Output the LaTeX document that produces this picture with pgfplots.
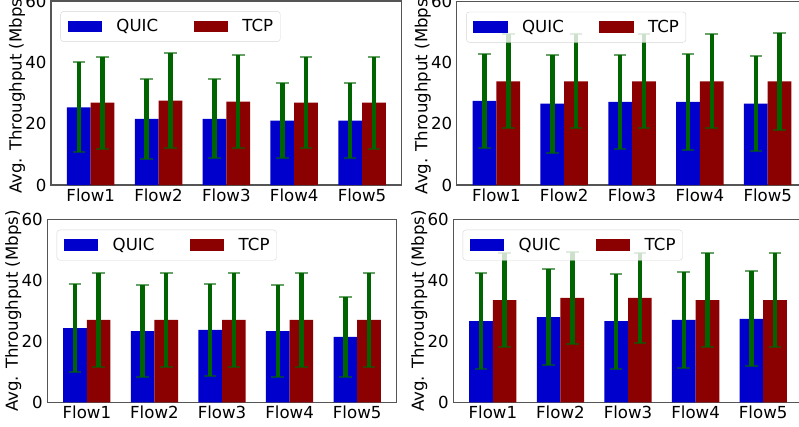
\documentclass[border=0pt]{standalone}
\usepackage{fontspec}
\setmainfont{DejaVu Sans}
\usepackage{pgfplots}
\pgfplotsset{compat=1.18}
\definecolor{quic}{RGB}{0,0,205}
\definecolor{tcp}{RGB}{139,0,0}
\definecolor{errg}{RGB}{0,100,0}
\newcommand\fs{\fontsize{16.6}{19}\selectfont}
\pgfplotsset{
  panel/.style={
    scale only axis,
    xmin=-0.585, xmax=4.585, ymin=0, ymax=60,
    xtick={0,1,2,3,4},
    xticklabels={Flow1,Flow2,Flow3,Flow4,Flow5},
    ytick={0,20,40,60},
    major tick length=0pt,
    /pgf/number format/assume math mode=true,
    axis line style={draw={rgb,255:red,85;green,85;blue,85}, line width=1.2pt},
    tick label style={font=\fs},
    yticklabel style={anchor=east, inner sep=0pt, xshift=-4.3pt},
    xticklabel style={anchor=north, inner sep=0pt, yshift=-3.7pt},
    ylabel={Avg. Throughput (Mbps)},
    label style={font=\fs},
    ylabel style={at={(axis description cs:-0.097,0.5)}, anchor=center},
    legend columns=2,
    legend style={at={(0.027,0.945)}, anchor=north west, font=\fs,
      draw=black!20, rounded corners=3pt, fill=white, fill opacity=0.8,
      draw opacity=0.8, text opacity=1,
      inner xsep=7pt, inner ysep=8pt,
      nodes={inner sep=0pt, text depth=0.2em},
      /tikz/every odd column/.append style={column sep=14.5pt},
      /tikz/every even column/.append style={column sep=35.5pt}},
  },
  qbar/.style={ybar, bar width=0.35, bar shift=0pt, fill=quic, draw=none,
    legend image code/.code={\fill[quic, sharp corners, fill opacity=1] (0pt,-5.9pt) rectangle (34.3pt,5.9pt);}},
  tbar/.style={ybar, bar width=0.35, bar shift=0pt, fill=tcp, draw=none,
    legend image code/.code={\fill[tcp, sharp corners, fill opacity=1] (0pt,-5.9pt) rectangle (34.3pt,5.9pt);}},
  ebar/.style={draw=none, mark=none, forget plot,
    error bars/.cd, y dir=both, y explicit,
    error bar style={line width=4.5pt, color=errg, sharp corners},
    error mark options={rotate=90, line width=2pt, mark size=6.3pt, color=errg, opacity=0.6}},
}
\begin{document}
\begin{tikzpicture}[x=1pt,y=1pt]
\useasboundingbox (0,0) rectangle (799,426);
\clip (0,0) rectangle (799,426);
% top-left
\begin{axis}[panel, at={(51pt,241pt)}, anchor=south west, width=350.7pt, height=184pt]
\addplot[qbar] coordinates {(-0.175,25.3) (0.825,21.6) (1.825,21.6) (2.825,21.0) (3.825,21.0)};
\addplot[tbar] coordinates {(0.175,26.9) (1.175,27.5) (2.175,27.2) (3.175,26.9) (4.175,26.9)};
\addplot[ebar] coordinates {(-0.175,25.3) +- (0,14.7) (0.825,21.6) +- (0,13.0) (1.825,21.6) +- (0,12.9) (2.825,21.0) +- (0,12.3) (3.825,21.0) +- (0,12.3)};
\addplot[ebar] coordinates {(0.175,26.9) +- (0,15.0) (1.175,27.5) +- (0,15.5) (2.175,27.2) +- (0,15.2) (3.175,26.9) +- (0,14.8) (4.175,26.9) +- (0,15.0)};
\legend{QUIC,TCP}
\end{axis}
% top-right
\begin{axis}[panel, at={(456.7pt,241pt)}, anchor=south west, width=350.7pt, height=183.3pt]
\addplot[qbar] coordinates {(-0.175,27.5) (0.825,26.6) (1.825,27.2) (2.825,27.2) (3.825,26.6)};
\addplot[tbar] coordinates {(0.175,33.9) (1.175,33.9) (2.175,33.9) (3.175,33.9) (4.175,33.9)};
\addplot[ebar] coordinates {(-0.175,27.5) +- (0,15.4) (0.825,26.6) +- (0,16.0) (1.825,27.2) +- (0,15.4) (2.825,27.2) +- (0,15.8) (3.825,26.6) +- (0,15.6)};
\addplot[ebar] coordinates {(0.175,33.9) +- (0,15.4) (1.175,33.9) +- (0,15.4) (2.175,33.9) +- (0,15.4) (3.175,33.9) +- (0,15.4) (4.175,33.9) +- (0,15.8)};
\legend{QUIC,TCP}
\end{axis}
% bottom-left
\begin{axis}[panel, at={(47.3pt,23.7pt)}, anchor=south west, width=349.4pt, height=182.6pt]
\addplot[qbar] coordinates {(-0.175,24.4) (0.825,23.4) (1.825,23.8) (2.825,23.4) (3.825,21.5)};
\addplot[tbar] coordinates {(0.175,27.1) (1.175,27.1) (2.175,27.1) (3.175,27.1) (4.175,27.1)};
\addplot[ebar] coordinates {(-0.175,24.4) +- (0,14.4) (0.825,23.4) +- (0,15.1) (1.825,23.8) +- (0,15.0) (2.825,23.4) +- (0,15.0) (3.825,21.5) +- (0,13.2)};
\addplot[ebar] coordinates {(0.175,27.1) +- (0,15.5) (1.175,27.1) +- (0,15.5) (2.175,27.1) +- (0,15.5) (3.175,27.1) +- (0,15.4) (4.175,27.1) +- (0,15.5)};
\legend{QUIC,TCP}
\end{axis}
% bottom-right
\begin{axis}[panel, at={(453.3pt,23.7pt)}, anchor=south west, width=349.4pt, height=182.6pt]
\addplot[qbar] coordinates {(-0.175,26.7) (0.825,28.0) (1.825,26.7) (2.825,27.1) (3.825,27.4)};
\addplot[tbar] coordinates {(0.175,33.6) (1.175,34.3) (2.175,34.3) (3.175,33.6) (4.175,33.6)};
\addplot[ebar] coordinates {(-0.175,26.7) +- (0,15.7) (0.825,28.0) +- (0,15.7) (1.825,26.7) +- (0,15.6) (2.825,27.1) +- (0,15.7) (3.825,27.4) +- (0,15.6)};
\addplot[ebar] coordinates {(0.175,33.6) +- (0,15.5) (1.175,34.3) +- (0,15.1) (2.175,34.3) +- (0,14.8) (3.175,33.6) +- (0,15.5) (4.175,33.6) +- (0,15.5)};
\legend{QUIC,TCP}
\end{axis}
\end{tikzpicture}
\end{document}
